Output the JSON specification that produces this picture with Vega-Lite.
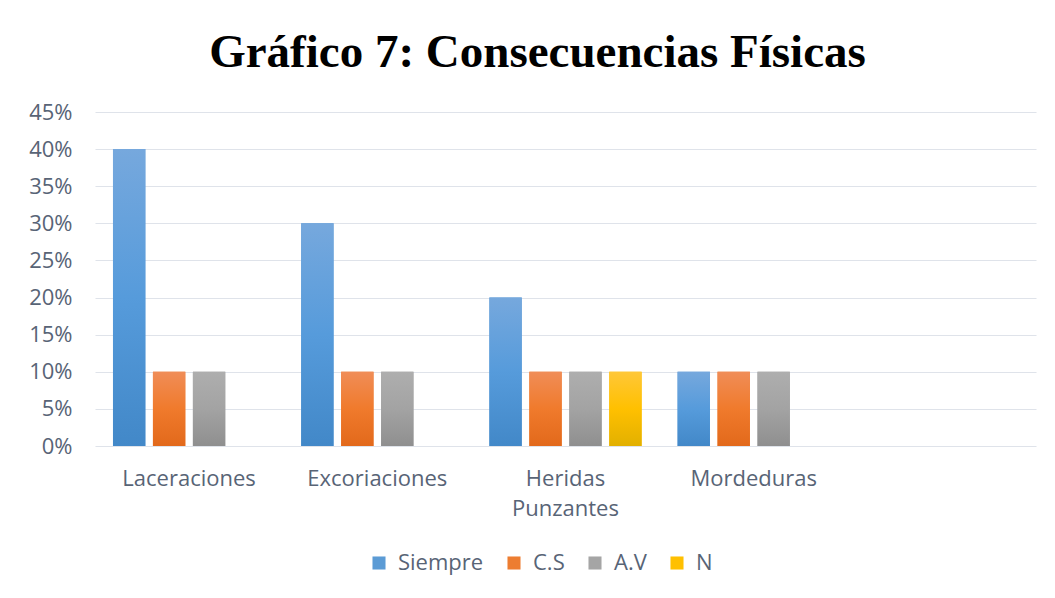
{
  "$schema": "https://vega.github.io/schema/vega-lite/v6.json",
  "width": 941,
  "height": 334,
  "autosize": {"type": "none"},
  "padding": {"left": 95, "top": 112, "right": 19, "bottom": 152},
  "background": "white",
  "title": {
    "text": "Gráfico 7: Consecuencias Físicas",
    "font": "Liberation Serif",
    "fontSize": 47,
    "fontWeight": "bold",
    "color": "#000000",
    "anchor": "middle",
    "offset": 24,
    "dx": -28
  },
  "data": {
    "values": [
      {"categoria": "Laceraciones", "serie": "Siempre", "valor": 0.40},
      {"categoria": "Laceraciones", "serie": "C.S", "valor": 0.10},
      {"categoria": "Laceraciones", "serie": "A.V", "valor": 0.10},
      {"categoria": "Excoriaciones", "serie": "Siempre", "valor": 0.30},
      {"categoria": "Excoriaciones", "serie": "C.S", "valor": 0.10},
      {"categoria": "Excoriaciones", "serie": "A.V", "valor": 0.10},
      {"categoria": "Heridas Punzantes", "serie": "Siempre", "valor": 0.20},
      {"categoria": "Heridas Punzantes", "serie": "C.S", "valor": 0.10},
      {"categoria": "Heridas Punzantes", "serie": "A.V", "valor": 0.10},
      {"categoria": "Heridas Punzantes", "serie": "N", "valor": 0.10},
      {"categoria": "Mordeduras", "serie": "Siempre", "valor": 0.10},
      {"categoria": "Mordeduras", "serie": "C.S", "valor": 0.10},
      {"categoria": "Mordeduras", "serie": "A.V", "valor": 0.10}
    ]
  },
  "encoding": {
    "x": {
      "field": "categoria",
      "type": "nominal",
      "scale": {
        "domain": ["Laceraciones", "Excoriaciones", "Heridas Punzantes", "Mordeduras", " "],
        "paddingInner": 0,
        "paddingOuter": 0
      },
      "axis": {
        "title": null,
        "labelAngle": 0,
        "labelFont": "Open Sans",
        "labelFontSize": 22,
        "labelColor": "#586476",
        "labelPadding": 22,
        "labelLineHeight": 30,
        "labelExpr": "split(datum.label, ' ')",
        "ticks": false,
        "domain": false,
        "grid": false
      }
    },
    "xOffset": {
      "field": "serie",
      "type": "nominal",
      "scale": {
        "domain": ["Siempre", "C.S", "A.V", "N"],
        "paddingInner": 0.19,
        "paddingOuter": 0.45
      }
    },
    "y": {
      "field": "valor",
      "type": "quantitative",
      "scale": {"domain": [0, 0.45], "nice": false},
      "axis": {
        "title": null,
        "values": [0, 0.05, 0.1, 0.15, 0.2, 0.25, 0.3, 0.35, 0.4, 0.45],
        "format": ".0%",
        "labelFont": "Open Sans",
        "labelFontSize": 22,
        "labelColor": "#586476",
        "labelPadding": 23,
        "ticks": false,
        "domain": false,
        "gridColor": "#dfe3ea",
        "gridWidth": 1.2
      }
    }
  },
  "layer": [
    {
      "mark": {"type": "bar"},
      "encoding": {
        "color": {
          "field": "serie",
          "type": "nominal",
          "scale": {
            "domain": ["Siempre", "C.S", "A.V", "N"],
            "range": ["#5b9bd5", "#ed7d31", "#a5a5a5", "#ffc000"]
          },
          "legend": {
            "title": null,
            "orient": "none",
            "direction": "horizontal",
            "legendX": 273,
            "legendY": 440,
            "symbolType": "square",
            "symbolSize": 170,
            "symbolStrokeWidth": 0,
            "symbolOpacity": 1,
            "labelFont": "Open Sans",
            "labelFontSize": 22,
            "labelColor": "#586476",
            "labelOffset": 8,
            "columnPadding": 19
          }
        }
      }
    },
    {
      "transform": [{"filter": "datum.serie === 'Siempre'"}],
      "mark": {"type": "bar", "color": {"gradient": "linear", "x1": 0, "y1": 0, "x2": 0, "y2": 1, "stops": [{"offset": 0, "color": "#76a8dd"}, {"offset": 0.5, "color": "#569bdb"}, {"offset": 1, "color": "#4288c8"}]}}
    },
    {
      "transform": [{"filter": "datum.serie === 'C.S'"}],
      "mark": {"type": "bar", "color": {"gradient": "linear", "x1": 0, "y1": 0, "x2": 0, "y2": 1, "stops": [{"offset": 0, "color": "#f08d57"}, {"offset": 0.5, "color": "#f07a2c"}, {"offset": 1, "color": "#e2691b"}]}}
    },
    {
      "transform": [{"filter": "datum.serie === 'A.V'"}],
      "mark": {"type": "bar", "color": {"gradient": "linear", "x1": 0, "y1": 0, "x2": 0, "y2": 1, "stops": [{"offset": 0, "color": "#aeaeae"}, {"offset": 0.5, "color": "#a3a3a3"}, {"offset": 1, "color": "#8f8f8f"}]}}
    },
    {
      "transform": [{"filter": "datum.serie === 'N'"}],
      "mark": {"type": "bar", "color": {"gradient": "linear", "x1": 0, "y1": 0, "x2": 0, "y2": 1, "stops": [{"offset": 0, "color": "#ffc738"}, {"offset": 0.5, "color": "#ffc000"}, {"offset": 1, "color": "#e2b000"}]}}
    }
  ],
  "config": {
    "view": {"stroke": null}
  }
}
